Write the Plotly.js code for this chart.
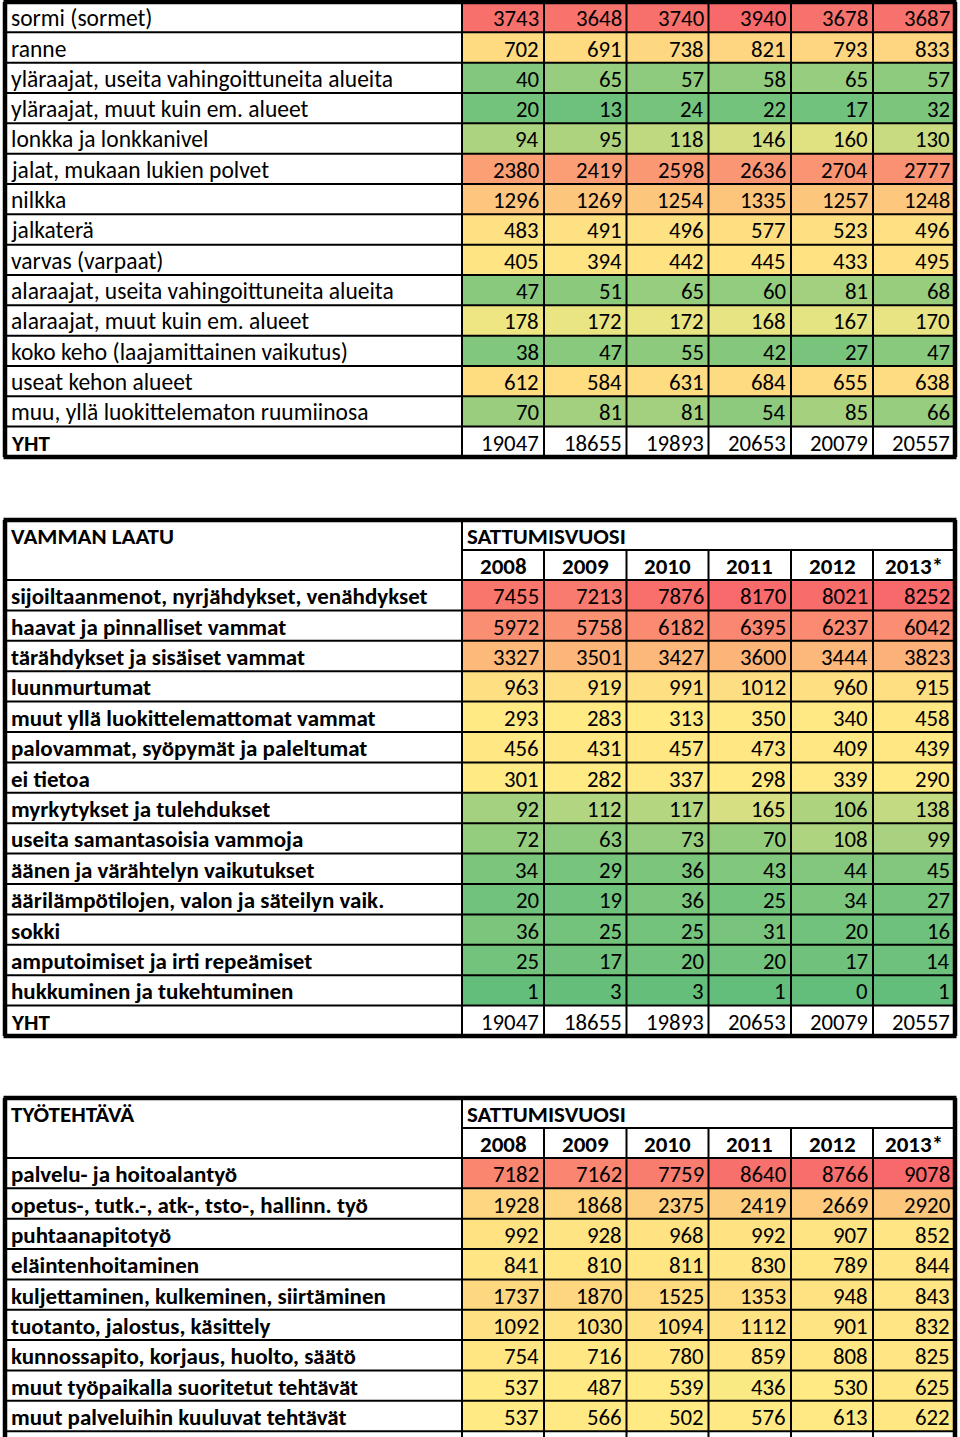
<!DOCTYPE html>
<html>
<head>
<meta charset="utf-8">
<script src="https://cdn.plot.ly/plotly-3.0.1.min.js"></script>
<style>
html,body{margin:0;padding:0;background:#ffffff;}
#chart{width:960px;height:1437px;}
</style>
</head>
<body>
<div id="chart"></div>
<script>
// ---------------- DATA ----------------
const years = ['2008', '2009', '2010', '2011', '2012', '2013*'];
const totalLabel = 'YHT';
const yearHeader = 'SATTUMISVUOSI';

// Table 1: injured body part (top of table is cut off in the picture)
const bodyPartLabels = [
  'sormi (sormet)',
  'ranne',
  'yläraajat, useita vahingoittuneita alueita',
  'yläraajat, muut kuin em. alueet',
  'lonkka ja lonkkanivel',
  'jalat, mukaan lukien polvet',
  'nilkka',
  'jalkaterä',
  'varvas (varpaat)',
  'alaraajat, useita vahingoittuneita alueita',
  'alaraajat, muut kuin em. alueet',
  'koko keho (laajamittainen vaikutus)',
  'useat kehon alueet',
  'muu, yllä luokittelematon ruumiinosa'
];
const bodyPartValues = [
  [3743, 3648, 3740, 3940, 3678, 3687],
  [702, 691, 738, 821, 793, 833],
  [40, 65, 57, 58, 65, 57],
  [20, 13, 24, 22, 17, 32],
  [94, 95, 118, 146, 160, 130],
  [2380, 2419, 2598, 2636, 2704, 2777],
  [1296, 1269, 1254, 1335, 1257, 1248],
  [483, 491, 496, 577, 523, 496],
  [405, 394, 442, 445, 433, 495],
  [47, 51, 65, 60, 81, 68],
  [178, 172, 172, 168, 167, 170],
  [38, 47, 55, 42, 27, 47],
  [612, 584, 631, 684, 655, 638],
  [70, 81, 81, 54, 85, 66]
];
const bodyPartTotals = [19047, 18655, 19893, 20653, 20079, 20557];

// Table 2: type of injury
const injuryHeader = 'VAMMAN LAATU';
const injuryLabels = [
  'sijoiltaanmenot, nyrjähdykset, venähdykset',
  'haavat ja pinnalliset vammat',
  'tärähdykset ja sisäiset vammat',
  'luunmurtumat',
  'muut yllä luokittelemattomat vammat',
  'palovammat, syöpymät ja paleltumat',
  'ei tietoa',
  'myrkytykset ja tulehdukset',
  'useita samantasoisia vammoja',
  'äänen ja värähtelyn vaikutukset',
  'äärilämpötilojen, valon ja säteilyn vaik.',
  'sokki',
  'amputoimiset ja irti repeämiset',
  'hukkuminen ja tukehtuminen'
];
const injuryValues = [
  [7455, 7213, 7876, 8170, 8021, 8252],
  [5972, 5758, 6182, 6395, 6237, 6042],
  [3327, 3501, 3427, 3600, 3444, 3823],
  [963, 919, 991, 1012, 960, 915],
  [293, 283, 313, 350, 340, 458],
  [456, 431, 457, 473, 409, 439],
  [301, 282, 337, 298, 339, 290],
  [92, 112, 117, 165, 106, 138],
  [72, 63, 73, 70, 108, 99],
  [34, 29, 36, 43, 44, 45],
  [20, 19, 36, 25, 34, 27],
  [36, 25, 25, 31, 20, 16],
  [25, 17, 20, 20, 17, 14],
  [1, 3, 3, 1, 0, 1]
];
const injuryTotals = [19047, 18655, 19893, 20653, 20079, 20557];

// Table 3: work task (continues below the picture)
const taskHeader = 'TYÖTEHTÄVÄ';
const taskLabels = [
  'palvelu- ja hoitoalantyö',
  'opetus-, tutk.-, atk-, tsto-, hallinn. työ',
  'puhtaanapitotyö',
  'eläintenhoitaminen',
  'kuljettaminen, kulkeminen, siirtäminen',
  'tuotanto, jalostus, käsittely',
  'kunnossapito, korjaus, huolto, säätö',
  'muut työpaikalla suoritetut tehtävät',
  'muut palveluihin kuuluvat tehtävät'
];
const taskValues = [
  [7182, 7162, 7759, 8640, 8766, 9078],
  [1928, 1868, 2375, 2419, 2669, 2920],
  [992, 928, 968, 992, 907, 852],
  [841, 810, 811, 830, 789, 844],
  [1737, 1870, 1525, 1353, 948, 843],
  [1092, 1030, 1094, 1112, 901, 832],
  [754, 716, 780, 859, 808, 825],
  [537, 487, 539, 436, 530, 625],
  [537, 566, 502, 576, 613, 622]
];

// colour-scale anchors (low / midpoint / high)
const bodyPartScale = [0, 200, 3940];
const injuryScale = [0, 223, 8252];
const taskScale = [0, 450, 9078];

// ---------------- STYLE / LAYOUT ----------------
const GREEN = '#63BE7B', YELLOW = '#FFEB84', RED = '#F8696B';
const FONT = 'Carlito, Lato, "Liberation Sans", sans-serif';
const FS_LABEL = 23.5, FS_BOLD = 23, FS_NUM = 22.8;
const colEdges = [5, 462, 544, 626.5, 708.5, 791, 873, 955];
const THIN = 2, THICK = 4.5;

const tables = [
  {labels: bodyPartLabels, values: bodyPartValues, totals: bodyPartTotals, scale: bodyPartScale,
   header: null, top: 2, headH: 0, rowH: 30.33, labelBold: false, openBottom: false},
  {labels: injuryLabels, values: injuryValues, totals: injuryTotals, scale: injuryScale,
   header: injuryHeader, top: 520, headH: 30, rowH: 30.4, labelBold: true, openBottom: false},
  {labels: taskLabels, values: taskValues, totals: null, scale: taskScale,
   header: taskHeader, top: 1098, headH: 30, rowH: 30.35, labelBold: true, openBottom: true}
];

const traces = [], shapes = [], annotations = [];
function line(x0, y0, x1, y1, w) {
  shapes.push({type: 'line', xref: 'x', yref: 'y', x0, y0, x1, y1, layer: 'above',
    line: {color: '#000000', width: w}});
}
function text(x, y, s, anchor, bold, size) {
  annotations.push({xref: 'x', yref: 'y', x, y, text: bold ? '<b>' + s + '</b>' : s,
    showarrow: false, xanchor: anchor, yanchor: 'middle',
    font: {family: FONT, size: size, color: '#000000'}});
}

tables.forEach(t => {
  const x0 = colEdges[0], xL = colEdges[1], xR = colEdges[colEdges.length - 1];
  const dataTop = t.top + (t.header ? 2 * t.headH : 0);
  const nData = t.values.length;
  const nRows = nData + (t.totals ? 1 : 0);
  const rowEdges = [];
  for (let i = 0; i <= nRows; i++) rowEdges.push(dataTop + i * t.rowH);
  const bottom = rowEdges[nRows];
  const bottomExt = t.openBottom ? 1440 : bottom;

  // coloured cells through a heatmap (cell edges on the axes)
  const z = t.values.map(r => r.slice());
  if (t.totals) z.push(t.totals.map(() => null));
  const [lo, mid, hi] = t.scale;
  const p = (mid - lo) / (hi - lo);
  traces.push({
    type: 'heatmap', x: colEdges.slice(1), y: rowEdges, z,
    zmin: lo, zmax: hi, showscale: false, hoverinfo: 'skip',
    colorscale: [[0, GREEN], [p, YELLOW], [1, RED]]
  });

  // grid lines
  for (let i = 0; i <= nRows; i++) {
    if (i === 0 && !t.header) continue;
    if (i === nRows && !t.openBottom) continue;
    line(x0, rowEdges[i], xR, rowEdges[i], THIN);
  }
  const vTop = t.header ? t.top + t.headH : dataTop;
  line(xL, t.top, xL, bottomExt, THIN);
  for (let c = 2; c < colEdges.length - 1; c++) line(colEdges[c], vTop, colEdges[c], bottomExt, THIN);
  if (t.header) line(xL, t.top + t.headH, xR, t.top + t.headH, THIN);

  // outer border
  line(x0 - 1.5, t.top, xR + 1.5, t.top, THICK);
  line(x0, t.top, x0, bottomExt, THICK);
  line(xR, t.top, xR, bottomExt, THICK);
  if (!t.openBottom) line(x0 - 1.5, bottom, xR + 1.5, bottom, THICK);

  // header texts
  if (t.header) {
    text(x0 + 4, t.top + t.headH / 2 + 1, t.header, 'left', true, FS_BOLD);
    text(xL + 3, t.top + t.headH / 2 + 1, yearHeader, 'left', true, FS_BOLD);
    years.forEach((yr, c) => {
      text((colEdges[c + 1] + colEdges[c + 2]) / 2, t.top + 1.5 * t.headH + 1, yr, 'center', true, FS_BOLD);
    });
  }
  // body texts
  const allLabels = t.totals ? t.labels.concat([totalLabel]) : t.labels;
  const allValues = t.totals ? t.values.concat([t.totals]) : t.values;
  allLabels.forEach((lab, r) => {
    const yc = (rowEdges[r] + rowEdges[r + 1]) / 2 + 1;
    const bold = t.labelBold || lab === totalLabel;
    text(x0 + 4, yc, lab, 'left', bold, bold ? FS_BOLD : FS_LABEL);
    allValues[r].forEach((v, c) => {
      text(colEdges[c + 2] - 3, yc, String(v), 'right', false, FS_NUM);
    });
  });
});

const layout = {
  width: 960, height: 1437,
  margin: {l: 0, r: 0, t: 0, b: 0, pad: 0},
  paper_bgcolor: '#ffffff', plot_bgcolor: '#ffffff',
  showlegend: false,
  xaxis: {range: [0, 960], visible: false, fixedrange: true},
  yaxis: {range: [1437, 0], visible: false, fixedrange: true},
  shapes, annotations
};
Plotly.newPlot('chart', traces, layout, {staticPlot: true, displayModeBar: false});
</script>
</body>
</html>
